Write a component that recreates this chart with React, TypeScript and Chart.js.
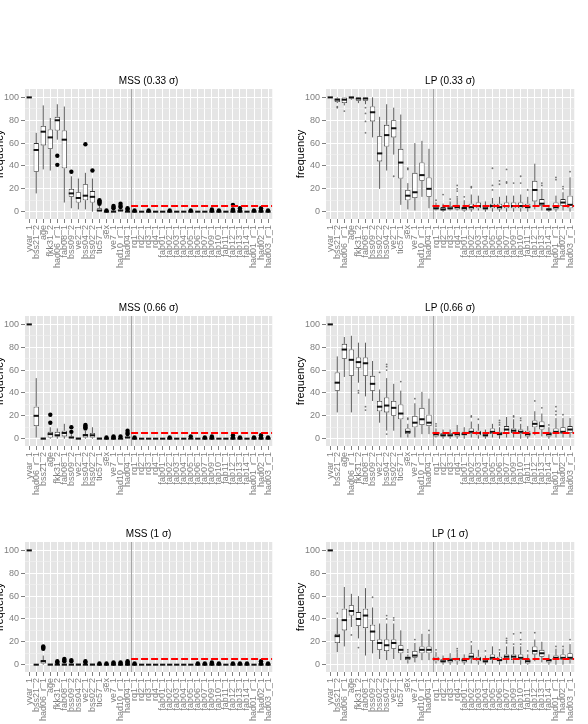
import { useEffect, useRef } from 'react';
import { Chart, registerables } from 'chart.js';

Chart.register(...registerables);
Chart.defaults.font.family = '"Liberation Sans", Arial, Helvetica, sans-serif';

// Variables after the separator line, shared by every panel
const RIGHT_VARS = [
  'rq1_1', 'rq2_1', 'rq3_1', 'rq4_1', 'fab01_1', 'fab02_1', 'fab03_1', 'fab04_1',
  'fab05_1', 'fab06_1', 'fab07_1', 'fab09_1', 'fab10_1', 'fab11_1', 'fab12_1',
  'fab13_1', 'fab14_1', 'had01_r_1', 'had02_1', 'had03_r_1',
];

const MSS_033_VARS = ['yvar_1', 'bss21_2', 'age', 'fkk31_2', 'had06_r_1', 'fab08_1', 'bss09_2', 've2_1', 'bss04_2', 'bss02_2', 'tic57_1', 'sex', 've7_1', 'had10_r_1', 'had04_1', ...RIGHT_VARS];
const LP_033_VARS = ['yvar_1', 'bss21_2', 'had06_r_1', 'age', 'fkk31_2', 'fab08_1', 'bss09_2', 'bss02_2', 'bss04_2', 've2_1', 'tic57_1', 'sex', 've7_1', 'had10_r_1', 'had04_1', ...RIGHT_VARS];
const MSS_066_VARS = ['yvar_1', 'had06_r_1', 'bss21_2', 'age', 'fkk31_2', 'fab08_1', 'bss09_2', 've2_1', 'bss04_2', 'bss02_2', 'tic57_1', 'sex', 've7_1', 'had10_r_1', 'had04_1', ...RIGHT_VARS];
const LP_066_VARS = ['yvar_1', 'bss21_2', 'age', 'had06_r_1', 'fkk31_2', 'fab08_1', 'bss09_2', 've2_1', 'bss04_2', 'bss02_2', 'tic57_1', 'sex', 've7_1', 'had10_r_1', 'had04_1', ...RIGHT_VARS];
const MSS_1_VARS = ['yvar_1', 'bss21_2', 'had06_r_1', 'age', 'fkk31_2', 'fab08_1', 'bss09_2', 'bss04_2', 've2_1', 'bss02_2', 'tic57_1', 'sex', 've7_1', 'had10_r_1', 'had04_1', ...RIGHT_VARS];
const LP_1_VARS = ['yvar_1', 'bss21_2', 'had06_r_1', 'age', 'fkk31_2', 'fab08_1', 'bss09_2', 'bss02_2', 'bss04_2', 've2_1', 'tic57_1', 'sex', 've7_1', 'had10_r_1', 'had04_1', ...RIGHT_VARS];

const ZERO = [0, 0, 0, 0, 0];
const ALL_100 = [100, 100, 100, 100, 100];

// Box statistics per variable: [lower whisker, q1, median, q3, upper whisker]
const MSS_033_BOX = [
  ALL_100, [16, 35, 54, 60, 69], [37, 58, 70, 75, 93], [36, 55, 65, 72, 82], [63, 71, 80, 83, 94],
  [8, 38, 63, 71, 92], [3, 13, 16, 20, 31], [2, 8, 12, 17, 29], [2, 10, 14, 24, 34], [0, 8, 13, 18, 29],
  [0, 0, 1, 3, 5], [0, 0, 0, 1, 2], [0, 0, 0, 1, 2], [0, 0, 1, 2, 3], [0, 0, 0, 1, 2],
  ZERO, ZERO, ZERO, ZERO, ZERO, ZERO, ZERO, ZERO, ZERO, ZERO,
  ZERO, ZERO, ZERO, ZERO, ZERO, ZERO, ZERO, ZERO, ZERO, ZERO,
];
const MSS_033_OUT = [
  [], [], [], [], [41, 49], [], [35], [], [59], [36], [7, 8, 9, 10], [1], [3, 4, 5], [4, 5, 7], [2, 3],
  [1], [], [1], [], [], [1], [], [], [1], [], [], [1, 2], [1], [], [1, 2, 6], [1, 3], [], [1], [1, 3], [1],
];

const LP_033_BOX = [
  ALL_100, [95, 96, 98, 99, 100], [93, 95, 98, 100, 100], [98, 99, 100, 100, 100], [95, 97, 99, 100, 100],
  [94, 97, 99, 100, 100], [65, 79, 87, 92, 100], [20, 44, 51, 66, 83], [36, 57, 67, 76, 94], [50, 65, 73, 80, 91],
  [6, 29, 43, 55, 85], [2, 10, 14, 19, 25], [1, 12, 17, 34, 60], [13, 27, 32, 43, 62], [3, 13, 20, 30, 55],
  [1, 2, 3, 5, 8], [0, 1, 2, 4, 7], [1, 2, 3, 5, 9], [1, 2, 4, 6, 12], [0, 1, 3, 4, 10],
  [0, 2, 4, 7, 15], [1, 3, 5, 8, 14], [0, 2, 3, 5, 9], [0, 3, 5, 7, 12], [0, 2, 4, 7, 13],
  [0, 3, 5, 8, 14], [0, 3, 5, 8, 14], [0, 3, 5, 8, 15], [0, 3, 4, 7, 13], [2, 9, 19, 27, 42],
  [1, 5, 7, 11, 20], [0, 1, 2, 3, 6], [0, 2, 4, 8, 14], [1, 5, 8, 11, 17], [0, 3, 6, 14, 30],
];
const LP_033_OUT = [
  [], [91, 92], [88], [], [], [69, 79, 86, 91], [], [], [], [31], [], [37, 38], [], [], [],
  [10], [15], [11], [13, 18, 20, 23], [13], [21, 22], [], [], [19, 23, 38], [24, 27],
  [25, 26, 37], [25], [25, 31], [19], [], [23, 25], [], [28, 30], [20, 22], [35],
];

const MSS_066_BOX = [
  ALL_100, [1, 11, 20, 28, 53], [0, 0, 0, 1, 1], [0, 1, 4, 6, 10], [0, 2, 3, 6, 9],
  [0, 2, 5, 7, 13], [0, 0, 1, 2, 4], [0, 0, 0, 1, 1], [0, 1, 3, 4, 7], [0, 1, 3, 5, 10],
  [0, 0, 0, 1, 1], ZERO, ZERO, [0, 0, 0, 1, 1], [0, 0, 1, 2, 3],
  ZERO, ZERO, ZERO, ZERO, ZERO, ZERO, ZERO, ZERO, ZERO, ZERO,
  ZERO, ZERO, ZERO, ZERO, ZERO, ZERO, ZERO, ZERO, ZERO, ZERO,
];
const MSS_066_OUT = [
  [], [], [], [14, 21], [], [], [6, 10], [], [9, 10, 11, 12], [], [], [1], [1, 2], [2], [4, 5, 7],
  [1], [], [], [], [], [1], [], [], [2], [], [1], [1, 2], [], [], [1, 3], [1], [], [1], [1, 3], [1],
];

const LP_066_BOX = [
  ALL_100, [23, 42, 49, 58, 72], [54, 70, 78, 83, 89], [23, 55, 69, 78, 90], [49, 62, 67, 71, 84],
  [37, 55, 66, 71, 84], [33, 42, 48, 55, 68], [14, 24, 28, 33, 43], [7, 23, 29, 36, 53], [7, 20, 27, 33, 48],
  [1, 17, 22, 30, 42], [1, 4, 6, 9, 13], [1, 10, 14, 20, 31], [4, 12, 17, 27, 41], [4, 11, 14, 21, 35],
  [1, 2, 4, 6, 9], [0, 2, 3, 5, 8], [0, 2, 3, 5, 8], [0, 2, 4, 6, 12], [0, 3, 4, 6, 10],
  [1, 4, 6, 9, 15], [0, 3, 5, 7, 13], [0, 2, 3, 5, 8], [1, 4, 6, 9, 13], [0, 3, 4, 6, 10],
  [1, 5, 8, 11, 19], [1, 5, 7, 9, 17], [0, 4, 6, 8, 13], [0, 2, 4, 7, 11], [3, 10, 13, 16, 24],
  [2, 8, 11, 15, 22], [0, 2, 4, 6, 10], [1, 4, 6, 9, 18], [1, 4, 6, 10, 18], [1, 5, 8, 11, 18],
];
const LP_066_OUT = [
  [], [], [], [], [40, 42], [25, 28], [], [58], [4, 60, 63, 65], [], [50], [17, 18], [35], [], [],
  [11, 13], [], [], [], [], [19, 20], [17], [], [], [12, 14, 16],
  [], [19, 20], [16, 18], [], [33], [27], [12], [21, 24, 28], [21], [],
];

const MSS_1_BOX = [
  ALL_100, ZERO, [0, 1, 3, 4, 8], [0, 0, 0, 1, 1], [0, 0, 0, 1, 1],
  [0, 0, 0, 1, 1], [0, 0, 0, 1, 1], [0, 0, 0, 1, 1], ZERO, [0, 0, 0, 1, 1],
  ZERO, ZERO, ZERO, ZERO, ZERO,
  ZERO, ZERO, ZERO, ZERO, ZERO, ZERO, ZERO, ZERO, ZERO, ZERO,
  ZERO, ZERO, ZERO, ZERO, ZERO, ZERO, ZERO, ZERO, ZERO, ZERO,
];
const MSS_1_OUT = [
  [], [], [14, 15, 16], [], [2, 3], [3, 4, 5], [3, 4], [], [2, 3], [], [1], [1], [1, 2], [1, 2], [1, 2, 3],
  [1], [], [], [], [], [], [], [], [], [1], [1], [1, 2], [1], [], [1], [1], [1], [], [1, 3], [1],
];

const LP_1_BOX = [
  ALL_100, [11, 19, 25, 27, 41], [16, 30, 39, 49, 68], [33, 43, 47, 52, 62], [23, 34, 40, 46, 60],
  [8, 32, 43, 49, 67], [10, 21, 29, 35, 50], [5, 13, 19, 22, 36], [4, 12, 17, 22, 36], [5, 14, 19, 22, 36],
  [4, 10, 13, 17, 30], [1, 4, 6, 7, 9], [2, 6, 8, 12, 19], [4, 10, 13, 16, 27], [4, 10, 13, 16, 27],
  [1, 3, 5, 7, 11], [0, 2, 3, 5, 8], [0, 2, 4, 6, 10], [0, 3, 5, 6, 11], [0, 2, 4, 6, 9],
  [1, 5, 7, 10, 17], [0, 3, 5, 7, 13], [0, 2, 3, 5, 8], [1, 4, 6, 9, 16], [0, 3, 4, 7, 11],
  [1, 4, 7, 9, 16], [1, 4, 7, 9, 16], [0, 4, 6, 9, 16], [0, 1, 3, 5, 9], [3, 9, 12, 16, 22],
  [2, 7, 10, 13, 20], [0, 2, 4, 5, 9], [0, 4, 6, 8, 14], [0, 4, 6, 9, 14], [1, 4, 6, 10, 18],
];
const LP_1_OUT = [
  [], [45], [], [26], [15], [], [59], [], [40, 43], [39, 41], [], [11, 13], [22], [], [30],
  [13], [], [], [12, 14], [], [20], [], [12], [], [13],
  [19, 21, 23], [18, 27], [18, 22, 28], [12], [28], [], [], [16], [16], [22],
];

const Y_TICKS = [0, 10, 20, 30, 40, 50, 60, 70, 80, 90, 100];
const SEPARATOR_AT = 14.5; // between had04_1 and rq1_1
const THRESHOLD = 5;

type PanelSpec = {
  title: string;
  vars: string[];
  box: number[][];
  out: number[][];
  mss: boolean;
  plotLeft: number;
  plotTop: number;
  plotWidth: number;
};

const AXIS_W = 38;
const TOP_H = 18;
const PLOT_H = 130;
const XAXIS_H = 62;
const PAD_R = 8;

const PANELS: PanelSpec[] = [
  { title: 'MSS (0.33 σ)', vars: MSS_033_VARS, box: MSS_033_BOX, out: MSS_033_OUT, mss: true, plotLeft: 25, plotTop: 89, plotWidth: 248 },
  { title: 'LP (0.33 σ)', vars: LP_033_VARS, box: LP_033_BOX, out: LP_033_OUT, mss: false, plotLeft: 326, plotTop: 89, plotWidth: 249 },
  { title: 'MSS (0.66 σ)', vars: MSS_066_VARS, box: MSS_066_BOX, out: MSS_066_OUT, mss: true, plotLeft: 25, plotTop: 316, plotWidth: 248 },
  { title: 'LP (0.66 σ)', vars: LP_066_VARS, box: LP_066_BOX, out: LP_066_OUT, mss: false, plotLeft: 326, plotTop: 316, plotWidth: 249 },
  { title: 'MSS (1 σ)', vars: MSS_1_VARS, box: MSS_1_BOX, out: MSS_1_OUT, mss: true, plotLeft: 25, plotTop: 542, plotWidth: 248 },
  { title: 'LP (1 σ)', vars: LP_1_VARS, box: LP_1_BOX, out: LP_1_OUT, mss: false, plotLeft: 326, plotTop: 542, plotWidth: 249 },
];

// Grey panel, separator line, whiskers and medians drawn with the chart's own scales
const ggPanelPlugin = {
  id: 'ggPanel',
  beforeDraw(chart: any) {
    const { ctx, chartArea: a } = chart;
    ctx.save();
    ctx.fillStyle = '#E5E5E5';
    ctx.fillRect(a.left, a.top, a.right - a.left, a.bottom - a.top);
    ctx.restore();
  },
  beforeDatasetsDraw(chart: any) {
    const { ctx, chartArea: a, scales } = chart;
    const x = Math.round(scales.x.getPixelForValue(SEPARATOR_AT)) + 0.5;
    ctx.save();
    ctx.strokeStyle = '#A6A6A6';
    ctx.lineWidth = 1;
    ctx.beginPath();
    ctx.moveTo(x, a.top);
    ctx.lineTo(x, a.bottom);
    ctx.stroke();
    ctx.restore();
  },
  afterDatasetDraw(chart: any, args: any) {
    if (args.meta.type !== 'bar') return;
    const { ctx, scales } = chart;
    const stats: number[][] = chart.data.datasets[args.index].boxStats;
    ctx.save();
    stats.forEach((s, i) => {
      const el = args.meta.data[i];
      const cx = scales.x.getPixelForValue(i);
      const half = (el ? el.width : 5) / 2;
      const yLo = scales.y.getPixelForValue(s[0]);
      const yQ1 = scales.y.getPixelForValue(s[1]);
      const yMed = scales.y.getPixelForValue(s[2]);
      const yQ3 = scales.y.getPixelForValue(s[3]);
      const yHi = scales.y.getPixelForValue(s[4]);
      ctx.strokeStyle = '#333333';
      ctx.lineWidth = 0.8;
      ctx.beginPath();
      ctx.moveTo(cx, yHi);
      ctx.lineTo(cx, yQ3);
      ctx.moveTo(cx, yQ1);
      ctx.lineTo(cx, yLo);
      ctx.stroke();
      ctx.strokeStyle = '#111111';
      ctx.lineWidth = 2;
      ctx.beginPath();
      ctx.moveTo(cx - half, yMed);
      ctx.lineTo(cx + half, yMed);
      ctx.stroke();
    });
    ctx.restore();
  },
};

function buildConfig(spec: PanelSpec): any {
  const outPoints: { x: number; y: number }[] = [];
  spec.out.forEach((vals, i) => vals.forEach((v) => outPoints.push({ x: i, y: v })));
  const last = spec.vars.length - 1;
  const xMax = last + 0.6;
  const isMajor = (c: any) => c.tick && c.tick.value % 20 === 0;

  return {
    type: 'bar',
    data: {
      datasets: [
        {
          type: 'line',
          label: 'threshold',
          data: [{ x: SEPARATOR_AT, y: THRESHOLD }, { x: xMax, y: THRESHOLD }],
          borderColor: '#FF0000',
          borderWidth: 2,
          borderDash: [7, 3],
          pointRadius: 0,
          fill: false,
          order: 0,
        },
        {
          type: 'scatter',
          label: 'outliers',
          data: outPoints,
          pointRadius: spec.mss ? 2.2 : 0.9,
          pointBackgroundColor: spec.mss ? '#000000' : 'rgba(70,70,70,0.75)',
          pointBorderWidth: 0,
          order: 1,
        },
        {
          type: 'bar',
          label: 'frequency',
          data: spec.box.map((s, i) => ({ x: i, y: [s[1], s[3]] })),
          boxStats: spec.box,
          backgroundColor: '#FFFFFF',
          borderColor: '#333333',
          borderWidth: 0.8,
          borderSkipped: false,
          barPercentage: 0.75,
          categoryPercentage: 1,
          order: 2,
        },
      ],
    },
    options: {
      responsive: false,
      animation: false,
      devicePixelRatio: 1,
      events: [],
      layout: { padding: { left: 0, right: PAD_R, top: 0, bottom: 0 } },
      plugins: {
        legend: { display: false },
        tooltip: { enabled: false },
        title: {
          display: true,
          text: spec.title,
          fullSize: false,
          color: '#000000',
          font: { size: 10, weight: 'normal' },
          padding: { top: 4, bottom: 2 },
        },
      },
      scales: {
        x: {
          type: 'linear',
          bounds: 'data',
          min: -0.6,
          max: xMax,
          offset: false,
          afterBuildTicks: (s: any) => {
            s.ticks = spec.vars.map((_, i) => ({ value: i }));
          },
          afterFit: (s: any) => {
            s.height = XAXIS_H;
          },
          grid: { offset: false, color: '#FFFFFF', lineWidth: 1, tickColor: '#7F7F7F', tickLength: 4 },
          border: { display: false },
          ticks: {
            autoSkip: false,
            minRotation: 90,
            maxRotation: 90,
            padding: 2,
            color: '#7F7F7F',
            font: { size: 9 },
            callback: (v: number) => spec.vars[v] ?? '',
          },
        },
        y: {
          type: 'linear',
          bounds: 'data',
          min: -6.4,
          max: 107.35,
          afterBuildTicks: (s: any) => {
            s.ticks = Y_TICKS.map((v) => ({ value: v }));
          },
          afterFit: (s: any) => {
            s.width = AXIS_W;
          },
          grid: {
            color: (c: any) => (isMajor(c) ? '#FFFFFF' : '#F2F2F2'),
            lineWidth: (c: any) => (isMajor(c) ? 1 : 0.6),
            tickColor: (c: any) => (isMajor(c) ? '#7F7F7F' : 'rgba(0,0,0,0)'),
            tickLength: 4,
          },
          border: { display: false },
          ticks: {
            autoSkip: false,
            padding: 2,
            color: '#7F7F7F',
            font: { size: 9 },
            callback: (v: number) => (v % 20 === 0 ? String(v) : ''),
          },
          title: {
            display: true,
            text: 'frequency',
            color: '#000000',
            font: { size: 11 },
            padding: { top: 6, bottom: 0 },
          },
        },
      },
    },
    plugins: [ggPanelPlugin],
  };
}

function BoxPanel({ spec }: { spec: PanelSpec }) {
  const ref = useRef<HTMLCanvasElement>(null);
  const width = AXIS_W + spec.plotWidth + PAD_R;
  const height = TOP_H + PLOT_H + XAXIS_H;

  useEffect(() => {
    if (!ref.current) return;
    const chart = new Chart(ref.current, buildConfig(spec));
    return () => chart.destroy();
  }, [spec]);

  return (
    <canvas
      ref={ref}
      width={width}
      height={height}
      style={{
        position: 'absolute',
        left: spec.plotLeft - AXIS_W,
        top: spec.plotTop - TOP_H,
        width,
        height,
      }}
    />
  );
}

export default function App() {
  return (
    <div
      style={{
        position: 'fixed',
        left: 0,
        top: 0,
        width: 588,
        height: 724,
        overflow: 'hidden',
        background: '#FFFFFF',
      }}
    >
      {PANELS.map((p) => (
        <BoxPanel key={p.title} spec={p} />
      ))}
    </div>
  );
}
